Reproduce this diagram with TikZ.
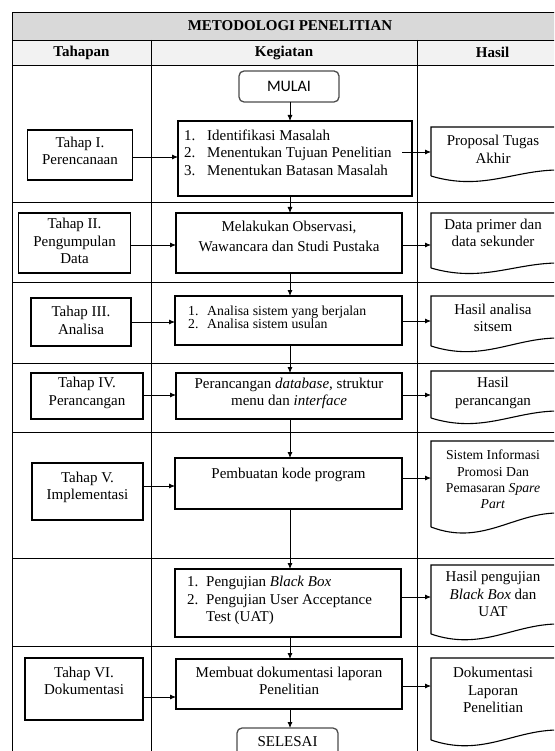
\documentclass[tikz,border=0pt]{standalone}
\usepackage{fontspec}
\setmainfont{Liberation Serif}
\newfontfamily\calfont{Carlito}
\usetikzlibrary{arrows.meta}
% name, top, y-left-bottom, y-right-bottom
\newcommand\hasildoc[4]{%
  \node[inner sep=0pt, outer sep=0pt, minimum width=125pt, minimum height={(#3)-(#2)}, anchor=north west] (#1) at (431,#2) {};
  \draw[docline] (431,#3) -- (431,#2) -- (556,#2) -- (556,#4)
     .. controls (512,{#4+1}) and (481,{#3+12+(#3-#4)/2}) .. (431,#3);
}
\begin{document}
\begin{tikzpicture}[x=1pt,y=-1pt,
  tbl/.style={line width=0.8pt},
  stepbox/.style={draw, line width=1.1pt, inner sep=0pt, outer sep=0pt, anchor=north west},
  termbox/.style={draw=black!70, line width=1.3pt, rounded corners=5pt, inner sep=0pt, outer sep=0pt, anchor=north west},
  docline/.style={line width=1.1pt},
  txt/.style={inner sep=0pt, align=center, font=\fontsize{15}{17.5}\selectfont},
  listtxt/.style={inner sep=0pt, align=left, anchor=west, font=\fontsize{15}{17.5}\selectfont},
  head/.style={inner sep=0pt, font=\fontsize{15}{17.5}\selectfont\bfseries},
  arr/.style={line width=0.8pt, -{Latex[length=6pt,width=5pt]}},
]
\useasboundingbox (0,0) rectangle (554,751);
\clip (0,0) rectangle (554,751);

% table frame
\fill[black!15] (12,12) rectangle (568,40);
\fill[black!5] (12,40) rectangle (568,65);
\draw[tbl] (12,770) -- (12,12) -- (568,12) -- (568,770);
\foreach \yy in {40,65,202,282,363,432,558,646} \draw[tbl] (12,\yy) -- (568,\yy);
\draw[tbl] (151,40) -- (151,770);
\draw[tbl] (417,40) -- (417,770);

% headers
\node[head] (title) at (290,26) {METODOLOGI PENELITIAN};
\node[head] (hT) at (81.5,52.5) {Tahapan};
\node[head] (hK) at (284,52.5) {Kegiatan};
\node[head] (hH) at (492.5,52.5) {Hasil};

% spine for vertical flow
\coordinate (spine) at (290,0);

% terminators
\node[termbox, minimum width=100pt, minimum height=31pt, font=\calfont\fontsize{16}{18}\selectfont] (mulai) at (239,71) {MULAI};
\node[termbox, minimum width=101pt, minimum height=40pt] (selesai) at (237,728) {};
\node[txt] (selesaiT) at (287.5,742) {SELESAI};

% Tahapan boxes
\node[stepbox, minimum width=105pt, minimum height=50pt] (tI) at (27.5,130) {};
\node[stepbox, minimum width=112pt, minimum height=60pt] (tII) at (18.5,213) {};
\node[stepbox, minimum width=100pt, minimum height=48pt] (tIII) at (31,298) {};
\node[stepbox, minimum width=112pt, minimum height=46pt] (tIV) at (31,373) {};
\node[stepbox, minimum width=111pt, minimum height=57pt] (tV) at (32,463) {};
\node[stepbox, minimum width=118pt, minimum height=62pt] (tVI) at (25,658) {};

\node[txt] (tIt) at (80,151) {Tahap I.\\Perencanaan};
\node[txt] (tIIt) at (74.5,241) {Tahap II.\\Pengumpulan\\Data};
\node[txt] (tIIIt) at (81,320.5) {Tahap III.\\Analisa};
\node[txt] (tIVt) at (87,393) {Tahap IV.\\Perancangan};
\node[txt] (tVt) at (87.5,487.5) {Tahap V.\\Implementasi};
\node[txt] (tVIt) at (84,681) {Tahap VI.\\Dokumentasi};

% Kegiatan boxes
\node[stepbox, minimum width=234pt, minimum height=75pt] (k1) at (178,121) {};
\node[stepbox, minimum width=226pt, minimum height=60pt] (k2) at (176,213) {};
\node[stepbox, minimum width=227pt, minimum height=49pt] (k3) at (175,296) {};
\node[stepbox, minimum width=226pt, minimum height=46pt] (k4) at (176,373) {};
\node[stepbox, minimum width=227pt, minimum height=51pt] (k5) at (175,458) {};
\node[stepbox, minimum width=226pt, minimum height=68pt] (k6) at (175,569) {};
\node[stepbox, minimum width=226pt, minimum height=50pt] (k7) at (176,659) {};

\node[listtxt] (k1t) at (184,152.5) {\makebox[23pt][l]{1.}Identifikasi Masalah\\\makebox[23pt][l]{2.}Menentukan Tujuan Penelitian\\\makebox[23pt][l]{3.}Menentukan Batasan Masalah};
\node[txt, font=\fontsize{15}{20}\selectfont] (k2t) at (289,236) {Melakukan Observasi,\\Wawancara dan Studi Pustaka};
\node[listtxt, font=\fontsize{13.8}{12.7}\selectfont] (k3t) at (188,317) {\makebox[19pt][l]{1.}Analisa sistem yang berjalan\\\makebox[19pt][l]{2.}Analisa sistem usulan};
\node[txt] (k4t) at (289,393.5) {Perancangan \textit{database}, struktur\\menu dan \textit{interface}};
\node[txt] (k5t) at (288.5,475) {Pembuatan kode program};
\node[listtxt] (k6t) at (187,600.5) {\makebox[19pt][l]{1.}Pengujian \textit{Black Box}\\\makebox[19pt][l]{2.}Pengujian User Acceptance\\\hspace*{19pt}Test (UAT)};
\node[txt] (k7t) at (289,681) {Membuat dokumentasi laporan\\Penelitian};

% Hasil documents
\hasildoc{dI}{127}{176}{170}
\hasildoc{dII}{213}{268}{263}
\hasildoc{dIII}{296}{346}{338}
\hasildoc{dIV}{371}{418}{411}
\hasildoc{dV}{441}{527}{513}
\hasildoc{dVI}{565}{634}{624}
\hasildoc{dVII}{658}{740}{730}

\node[txt] (dIt) at (493,149.5) {Proposal Tugas\\Akhir};
\node[txt] (dIIt) at (493,233) {Data primer dan\\data sekunder};
\node[txt] (dIIIt) at (493,318) {Hasil analisa\\sitsem};
\node[txt] (dIVt) at (493,393) {Hasil\\perancangan};
\node[txt, font=\fontsize{13.7}{16.3}\selectfont] (dVt) at (493,479.5) {Sistem Informasi\\Promosi Dan\\Pemasaran \textit{Spare}\\\textit{Part}};
\node[txt] (dVIt) at (493,594) {Hasil pengujian\\\textit{Black Box} dan\\UAT};
\node[txt] (dVIIt) at (493,690) {Dokumentasi\\Laporan\\Penelitian};

% vertical flow
\draw[arr] (mulai.south -| spine) -- (k1.north -| spine);
\draw[arr] (k1.south -| spine) -- (k2.north -| spine);
\draw[arr] (k2.south -| spine) -- (k3.north -| spine);
\draw[arr] (k3.south -| spine) -- (k4.north -| spine);
\draw[arr] (k4.south -| spine) -- (k5.north -| spine);
\draw[arr] (k5.south -| spine) -- (k6.north -| spine);
\draw[arr] (k6.south -| spine) -- (k7.north -| spine);
\draw[arr] (k7.south -| spine) -- (selesai.north -| spine);

% Tahapan -> Kegiatan
\draw[arr] (tI.east |- 0,157) -- (k1.west |- 0,157);
\draw[arr] (tII.east |- 0,245) -- (k2.west |- 0,245);
\draw[arr] (tIII.east |- 0,322) -- (k3.west |- 0,322);
\draw[arr] (tIV.east |- 0,395) -- (k4.west |- 0,395);
\draw[arr] (tV.east |- 0,486) -- (k5.west |- 0,486);
\draw[arr] (tVI.east |- 0,697) -- (k7.west |- 0,697);

% Kegiatan -> Hasil
\draw[arr] (k2.east |- 0,152) -- (dI.west |- 0,152);
\draw[arr] (k2.east |- 0,245) -- (dII.west |- 0,245);
\draw[arr] (k3.east |- 0,321) -- (dIII.west |- 0,321);
\draw[arr] (k4.east |- 0,395) -- (dIV.west |- 0,395);
\draw[arr] (k5.east |- 0,478) -- (dV.west |- 0,478);
\draw[arr] (k6.east |- 0,597) -- (dVI.west |- 0,597);
\draw[arr] (k7.east |- 0,686) -- (dVII.west |- 0,686);
\end{tikzpicture}
\end{document}
